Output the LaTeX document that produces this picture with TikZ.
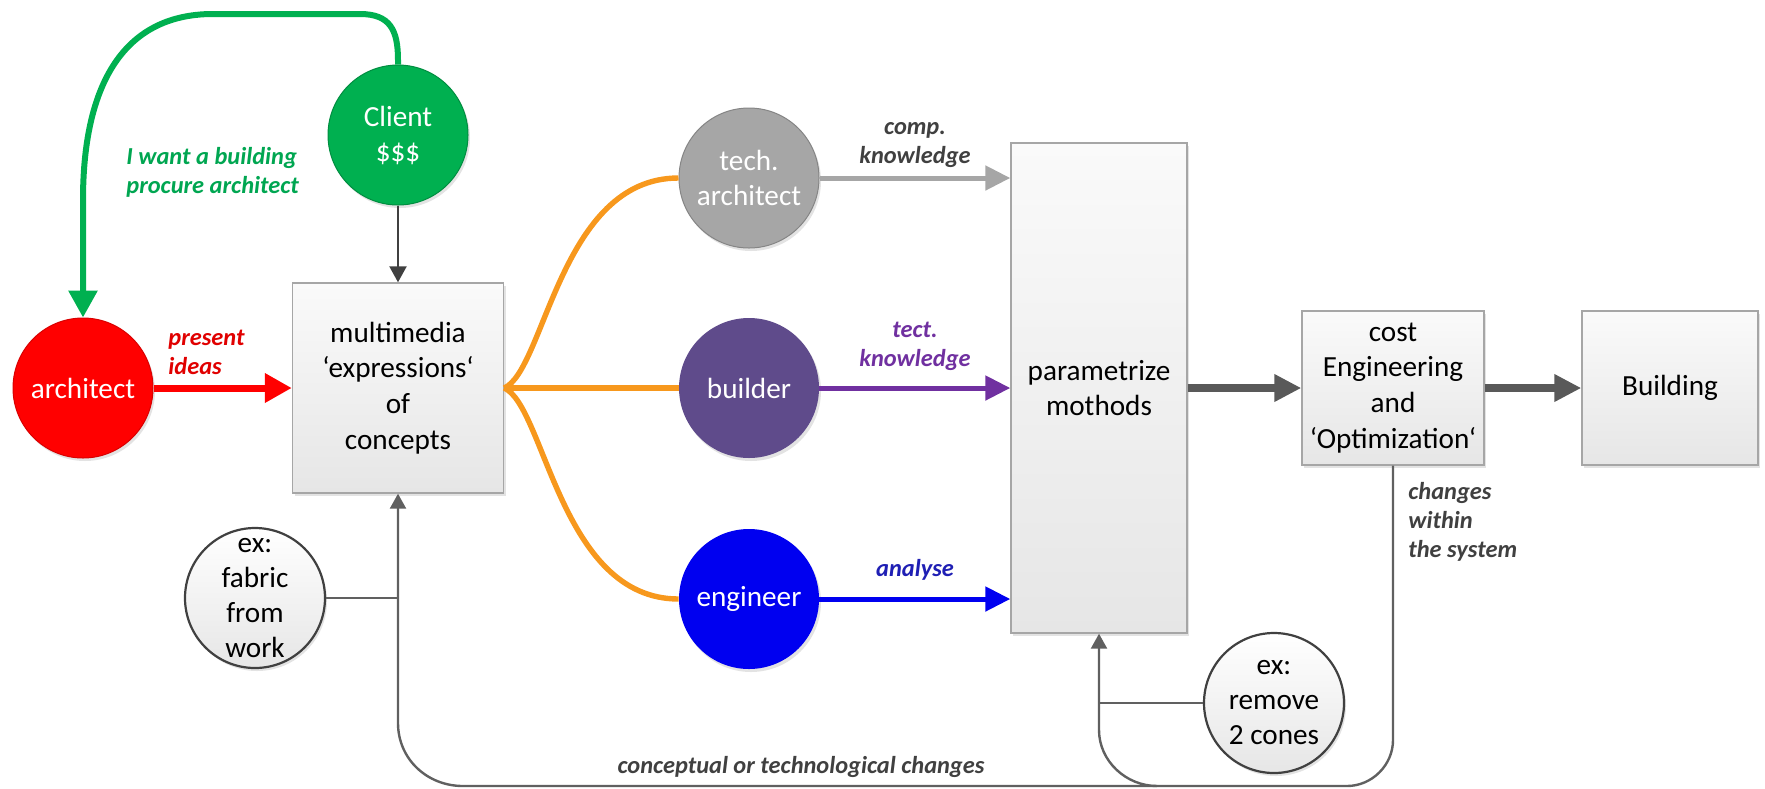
\documentclass[tikz,border=0pt]{standalone}
\usepackage{fontspec}
\setmainfont{Carlito}
\usetikzlibrary{arrows.meta,shadows,calc}
\definecolor{cgreen}{HTML}{00B050}
\definecolor{ltgreen}{HTML}{00A651}
\definecolor{cred}{HTML}{FF0000}
\definecolor{ltred}{HTML}{E00000}
\definecolor{cgray}{HTML}{A6A6A6}
\definecolor{cbuilder}{HTML}{5F4B8B}
\definecolor{cpurple}{HTML}{7030A0}
\definecolor{cblue}{HTML}{0000F0}
\definecolor{ltblue}{HTML}{1F1FB4}
\definecolor{corange}{HTML}{F7981D}
\definecolor{darkarrow}{HTML}{595959}
\definecolor{fbline}{HTML}{606060}
\definecolor{ltdark}{HTML}{404040}
\definecolor{boxline}{HTML}{A6A6A6}
\definecolor{boxtop}{HTML}{FAFAFA}
\definecolor{boxbot}{HTML}{E6E6E6}
\definecolor{exline}{HTML}{404040}
\tikzset{
  main/.style={font=\fontsize{14.6}{17.5}\selectfont, align=center},
  boxfont/.style={font=\fontsize{14.6}{17.9}\selectfont, align=center},
  lbl/.style={font=\fontsize{12.2}{14.6}\selectfont\bfseries\itshape, align=center, inner sep=0pt},
  softshadow/.style={drop shadow={opacity=0.22, shadow xshift=1pt, shadow yshift=-1.5pt}},
  ball/.style={circle, minimum size=70pt, inner sep=0pt, main, text=white, softshadow},
  panel/.style={rectangle, draw=boxline, line width=0.7pt, top color=boxtop, bottom color=boxbot, boxfont, inner sep=0pt, softshadow},
  excircle/.style={circle, minimum size=70pt, inner sep=0pt, draw=exline, line width=1.1pt, top color=white, bottom color=boxbot, main, softshadow},
  garrow/.style={draw=cgreen, line width=3pt, -{Triangle[length=13.5pt,width=14pt]}},
  redarrow/.style={draw=cred, line width=3.5pt, -{Triangle[length=13.5pt,width=14pt]}},
  thinarrow/.style={draw=ltdark, line width=1.1pt, -{Triangle[length=8pt,width=8.5pt]}},
  orangeline/.style={draw=corange, line width=2.7pt},
  grayarrow/.style={draw=cgray, line width=2.5pt, -{Triangle[length=12.5pt,width=12pt]}},
  purplearrow/.style={draw=cpurple, line width=2.5pt, -{Triangle[length=12.5pt,width=12pt]}},
  bluearrow/.style={draw=cblue, line width=2.5pt, -{Triangle[length=12.5pt,width=12pt]}},
  fatarrow/.style={draw=darkarrow, line width=4pt, -{Triangle[length=13.5pt,width=13pt]}},
  fb/.style={draw=fbline, line width=1.2pt},
  fbarrow/.style={fb, -{Triangle[length=7.5pt,width=8pt]}}
}
\begin{document}
\begin{tikzpicture}[x=0.5pt,y=-0.5pt]
\useasboundingbox (0,0) rectangle (1765,788);

% nodes
\node[ball, fill=cgreen, draw=cgreen!80!black, line width=0.5pt] (client) at (398,135) {Client\\\$\$\$};
\node[ball, fill=cred, draw=cred!85!black, line width=0.5pt] (arch) at (83,388) {architect};
\node[panel, minimum width=105.5pt, minimum height=105pt] (mm) at (398,388) {multimedia\\‘expressions‘\\of\\concepts};
\node[ball, fill=cgray, draw=cgray!80!black, line width=0.5pt] (tech) at (749,178) {tech.\\architect};
\node[ball, fill=cbuilder] (bld) at (749,388) {builder};
\node[ball, fill=cblue] (eng) at (749,599) {engineer};
\node[panel, minimum width=88pt, minimum height=245pt] (param) at (1099,388) {parametrize\\mothods};
\node[panel, minimum width=91pt, minimum height=77pt] (cost) at (1393,388) {cost\\Engineering\\and\\‘Optimization‘};
\node[panel, minimum width=88pt, minimum height=77pt] (build) at (1670,388) {Building};
\node[excircle] (fabric) at (255,598) {};
\node[main, inner sep=0pt] (fabrictext) at (fabric.center) {ex:\\fabric\\from\\work};
\node[excircle] (remove) at (1274,703) {ex:\\remove\\2 cones};

% green loop client -> architect
\draw[garrow] (client.north) -- (398,60) .. controls (398,30) and (390,14) .. (360,14) -- (213,14) .. controls (120,14) and (83,90) .. (83,200) -- (arch.north);

% architect -> multimedia
\draw[redarrow] (arch.east) -- (mm.west);
% client -> multimedia
\draw[thinarrow] (client.south) -- (mm.north);

% orange branches
\draw[orangeline] (mm.east) -- (bld.west);
\draw[orangeline] (mm.east) .. controls (545,370) and (560,178) .. (tech.west);
\draw[orangeline] (mm.east) .. controls (545,406) and (560,599) .. (eng.west);

% to parametrize
\draw[grayarrow] (tech.east) -- (tech.east -| param.west);
\draw[purplearrow] (bld.east) -- (param.west);
\draw[bluearrow] (eng.east) -- (eng.east -| param.west);

% main flow
\draw[fatarrow] (param.east) -- (cost.west);
\draw[fatarrow] (cost.east) -- (build.west);

% feedback loops
\coordinate (branch) at (1157,786);
\draw[fbarrow] (cost.south) -- (1393,740) .. controls (1393,765) and (1372,786) .. (1347,786) -- (463,786) .. controls (427,786) and (398,759) .. (398,723) -- (mm.south);
\draw[fbarrow] (branch) .. controls (1126,786) and (1099,761) .. (1099,730) -- (param.south);
\draw[fb] (fabric.east) -- (fabric.east -| mm.south);
\draw[fb] (remove.west) -- (remove.west -| param.south);

% labels
\node[lbl, text=ltgreen, anchor=west, align=left] (lwant) at (126,172) {I want a building\\procure architect};
\node[lbl, text=ltred, anchor=west, align=left] (lpresent) at (168,352) {present\\ideas};
\node[lbl, text=ltdark] (lcomp) at (915,145) {comp.\\knowledge};
\node[lbl, text=cpurple] (ltect) at (915,346) {tect.\\knowledge};
\node[lbl, text=ltblue] (lanalyse) at (915,570) {analyse};
\node[lbl, text=ltdark, anchor=west, align=left] (lchanges) at (1408,522) {changes\\within\\the system};
\node[lbl, text=ltdark] (lconcept) at (801,767) {conceptual or technological changes};
\end{tikzpicture}
\end{document}
